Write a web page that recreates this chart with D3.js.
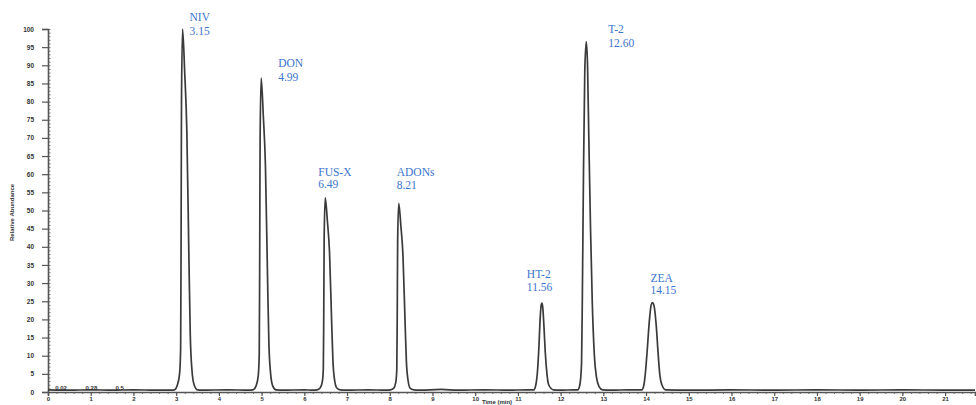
<!DOCTYPE html>
<html>
<head>
<meta charset="utf-8">
<script src="https://cdn.jsdelivr.net/npm/d3@7/dist/d3.min.js"></script>
<style>
  html, body { margin: 0; padding: 0; background: #fff; }
  svg { display: block; }
</style>
</head>
<body>
<svg id="chart" width="976" height="405"></svg>
<script>
// Peak identities and their retention times (min) / relative abundance (%)
const peakNames = ["NIV", "DON", "FUS-X", "ADONs", "HT-2", "T-2", "ZEA"];
const peakTimes = [3.15, 4.99, 6.49, 8.21, 11.56, 12.60, 14.15];
const peakHeights = [100, 86.5, 53.5, 52, 24.5, 96.5, 24.6];

// Small annotations sitting on the early baseline
const baselineNotes = ["0.02", "0.28", "0.5"];
const baselineNoteTimes = [0.17, 0.88, 1.58];

// Axis tick values
const xTicks = d3.range(0, 22, 1);
const yTicks = d3.range(0, 101, 5);

// Detector trace: [time (min), relative abundance (%)]
const trace = [
  [0.00, 0.6], [0.5, 0.5], [1.0, 0.6], [1.5, 0.5], [2.0, 0.6], [2.5, 0.5], [2.9, 0.5],
  // NIV
  [2.96, 0.6], [3.03, 2], [3.08, 5], [3.105, 12], [3.115, 40], [3.125, 80], [3.15, 100],
  [3.20, 88], [3.25, 72], [3.30, 36], [3.33, 16], [3.37, 6], [3.42, 2], [3.50, 0.6],
  [3.6, 0.5], [4.2, 0.6], [4.7, 0.5],
  // DON
  [4.80, 0.6], [4.87, 1.7], [4.92, 4.3], [4.945, 10.4], [4.955, 34.6], [4.965, 69.2], [4.99, 86.5],
  [5.04, 76.1], [5.09, 62.3], [5.14, 31.1], [5.17, 13.8], [5.21, 5.2], [5.26, 1.7], [5.34, 0.6],
  [5.5, 0.5], [6.0, 0.6], [6.2, 0.5],
  // FUS-X
  [6.30, 0.6], [6.37, 1.1], [6.42, 2.7], [6.445, 6.4], [6.455, 21.4], [6.465, 42.8], [6.49, 53.5],
  [6.54, 47.1], [6.59, 38.5], [6.64, 19.3], [6.67, 8.6], [6.71, 3.2], [6.76, 1.1], [6.84, 0.6],
  [7.0, 0.5], [7.5, 0.6], [7.9, 0.5],
  // ADONs
  [8.02, 0.6], [8.09, 1.0], [8.14, 2.6], [8.165, 6.2], [8.175, 20.8], [8.185, 41.6], [8.21, 52],
  [8.26, 45.8], [8.31, 37.4], [8.36, 18.7], [8.39, 8.3], [8.43, 3.1], [8.48, 1.0], [8.56, 0.6],
  [8.7, 0.5], [9.2, 0.7], [9.6, 0.5], [10.2, 0.6], [10.8, 0.5], [11.2, 0.6],
  // HT-2
  [11.37, 0.6], [11.42, 2], [11.46, 6], [11.49, 12], [11.52, 20], [11.545, 24], [11.56, 24.5],
  [11.58, 23.5], [11.61, 18], [11.64, 11], [11.68, 5], [11.72, 2], [11.83, 0.6],
  [12.0, 0.5], [12.3, 0.6],
  // T-2
  [12.40, 0.6], [12.45, 2], [12.49, 8], [12.51, 28], [12.535, 60], [12.565, 88], [12.60, 96.5],
  [12.63, 90], [12.66, 70], [12.70, 45], [12.74, 25], [12.79, 10], [12.84, 4], [12.90, 1.5], [12.98, 0.6],
  [13.2, 0.5], [13.6, 0.6],
  // ZEA
  [13.90, 0.6], [13.95, 2], [13.99, 6], [14.03, 12], [14.08, 20], [14.12, 24], [14.15, 24.6],
  [14.19, 23.5], [14.24, 18], [14.28, 11], [14.32, 5], [14.37, 2], [14.46, 0.6],
  [15, 0.5], [16, 0.6], [17, 0.5], [18, 0.6], [19, 0.5], [20, 0.6], [21, 0.5], [21.7, 0.5]
];

const svg = d3.select("#chart");
const W = 976, H = 405;
svg.append("rect").attr("width", W).attr("height", H).attr("fill", "#fff");

const x = d3.scaleLinear().domain([0, 21.7]).range([48, 975]);
const y = d3.scaleLinear().domain([0, 100]).range([392, 29]);

const axisColor = "#555";
const tickFont = "Liberation Sans, Arial, sans-serif";

// Minor ticks on the x axis
svg.append("g")
  .attr("transform", `translate(0,${y(0)})`)
  .call(d3.axisBottom(x).tickValues(d3.range(0, 21.7, 0.2)).tickSize(2).tickFormat(""))
  .call(g => g.select(".domain").remove())
  .call(g => g.selectAll("line").attr("stroke", axisColor).attr("stroke-width", 0.8));

// Major x axis
const xAxis = svg.append("g")
  .attr("transform", `translate(0,${y(0)})`)
  .call(d3.axisBottom(x).tickValues(xTicks).tickSize(4).tickPadding(1).tickFormat(d3.format("d")));
xAxis.select(".domain").attr("stroke", axisColor).attr("stroke-width", 1.6);
xAxis.selectAll(".tick line").attr("stroke", axisColor).attr("stroke-width", 1.2);
xAxis.selectAll(".tick text")
  .attr("fill", "#333").style("font-family", tickFont).style("font-size", "6px").style("font-weight", "bold");

// Minor ticks on the y axis (inside)
svg.append("g")
  .attr("transform", `translate(${x(0)},0)`)
  .call(d3.axisRight(y).tickValues(d3.range(0, 101, 1)).tickSize(2.5).tickFormat(""))
  .call(g => g.select(".domain").remove())
  .call(g => g.selectAll("line").attr("stroke", axisColor).attr("stroke-width", 0.8));

// Major y axis
const yAxis = svg.append("g")
  .attr("transform", `translate(${x(0)},0)`)
  .call(d3.axisLeft(y).tickValues(yTicks).tickSize(6).tickPadding(8).tickFormat(d3.format("d")));
yAxis.select(".domain").attr("stroke", axisColor).attr("stroke-width", 1.6);
yAxis.selectAll(".tick line").attr("stroke", axisColor).attr("stroke-width", 1.2);
yAxis.selectAll(".tick text")
  .attr("fill", "#333").style("font-family", tickFont).style("font-size", "6.5px").style("font-weight", "bold");

// Axis titles
svg.append("text")
  .attr("transform", `translate(14,${(y(0) + y(100)) / 2 + 2}) rotate(-90)`)
  .attr("text-anchor", "middle")
  .attr("fill", "#333")
  .style("font-family", tickFont).style("font-size", "6px").style("font-weight", "bold")
  .text("Relative Abundance");

svg.append("text")
  .attr("x", 497).attr("y", 404)
  .attr("text-anchor", "middle")
  .attr("fill", "#333")
  .style("font-family", tickFont).style("font-size", "6px").style("font-weight", "bold")
  .text("Time (min)");

// Chromatogram trace
const line = d3.line()
  .x(d => x(d[0]))
  .y(d => y(d[1]))
  .curve(d3.curveMonotoneX);

svg.append("path")
  .datum(trace)
  .attr("d", line)
  .attr("fill", "none")
  .attr("stroke", "#3a3a3a")
  .attr("stroke-width", 1.7)
  .attr("stroke-linejoin", "round");

// Baseline notes
svg.append("g").selectAll("text")
  .data(baselineNotes)
  .join("text")
  .attr("x", (d, i) => x(baselineNoteTimes[i]))
  .attr("y", y(0) - 2.5)
  .attr("fill", "#333")
  .style("font-family", tickFont).style("font-size", "6px").style("font-weight", "bold")
  .text(d => d);

// Peak labels: name above retention time, nudged off the apex (px)
const labelNudge = [
  [7, -8], [17, -11], [-7, -22], [-2, -27], [-15, -25], [22, -9], [-2, -21]
];
const labelColor = "#3b74cc";
const peaks = peakNames.map((n, i) => ({ name: n, t: peakTimes[i], h: peakHeights[i], nudge: labelNudge[i] }));
const lbl = svg.append("g")
  .style("font-family", "Liberation Serif, Times New Roman, serif")
  .style("font-size", "11.5px")
  .attr("fill", labelColor);

peaks.forEach(p => {
  const g = lbl.append("g")
    .attr("transform", `translate(${x(p.t) + p.nudge[0]},${y(p.h) + p.nudge[1]})`);
  g.append("text").attr("x", 0).attr("y", 0).text(p.name);
  g.append("text").attr("x", 0).attr("y", p.h > 80 ? 14 : 12.5).text(p.t.toFixed(2));
});
</script>
</body>
</html>
